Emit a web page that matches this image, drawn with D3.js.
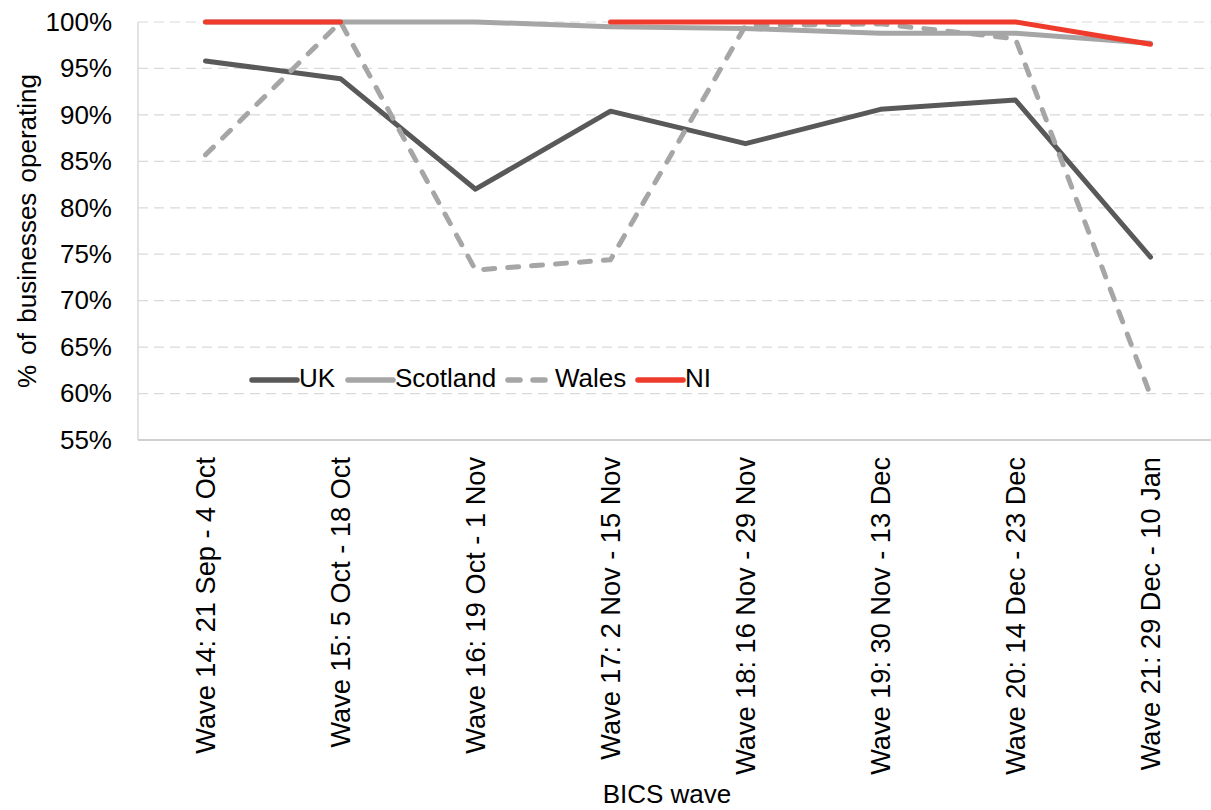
<!DOCTYPE html>
<html>
<head>
<meta charset="utf-8">
<script src="https://cdn.jsdelivr.net/npm/d3@7"></script>
<style>
  html, body { margin: 0; padding: 0; background: #fff; }
  svg { display: block; font-family: "Liberation Sans", Arial, sans-serif; }
</style>
</head>
<body>
<svg id="chart" width="1211" height="810"></svg>
<script>
// BICS waves (categories)
const waves = [
  "Wave 14: 21 Sep - 4 Oct",
  "Wave 15: 5 Oct - 18 Oct",
  "Wave 16: 19 Oct - 1 Nov",
  "Wave 17: 2 Nov - 15 Nov",
  "Wave 18: 16 Nov - 29 Nov",
  "Wave 19: 30 Nov - 13 Dec",
  "Wave 20: 14 Dec - 23 Dec",
  "Wave 21: 29 Dec - 10 Jan"
];

// % of businesses operating, by nation
const ukValues       = [95.8, 93.9, 82.0, 90.4, 86.9, 90.6, 91.6, 74.7];
const scotlandValues = [100, 100, 100, 99.5, 99.3, 98.8, 98.8, 97.7];
const walesValues    = [85.7, 100, 73.3, 74.4, 99.6, 99.8, 98.2, 59.8];
const niValues       = [100, 100, null, 100, 100, 100, 100, 97.6];

const seriesNames = ["UK", "Scotland", "Wales", "NI"];

// y-axis ticks
const yTicks = [55, 60, 65, 70, 75, 80, 85, 90, 95, 100];

const styles = {
  UK:       { color: "#595959", dash: null },
  Scotland: { color: "#a6a6a6", dash: null },
  Wales:    { color: "#a6a6a6", dash: "11,13" },
  NI:       { color: "#ee3b2b", dash: null }
};

const series = [
  { name: "UK", values: ukValues },
  { name: "Scotland", values: scotlandValues },
  { name: "Wales", values: walesValues },
  { name: "NI", values: niValues }
];

const svg = d3.select("#chart");
const plotLeft = 138, plotRight = 1218, plotTop = 22, plotBottom = 440;

const x = d3.scaleBand().domain(waves).range([plotLeft, plotRight]);
const y = d3.scaleLinear().domain([55, 100]).range([plotBottom, plotTop]);
const cx = w => x(w) + x.bandwidth() / 2;

// horizontal gridlines
svg.append("g")
  .selectAll("line")
  .data(yTicks.filter(t => t > 55))
  .join("line")
  .attr("x1", plotLeft).attr("x2", plotRight)
  .attr("y1", d => y(d)).attr("y2", d => y(d))
  .attr("stroke", "#d9d9d9")
  .attr("stroke-width", 1.2)
  .attr("stroke-dasharray", "10,6");

// axis lines
svg.append("line")
  .attr("x1", plotLeft).attr("x2", plotLeft).attr("y1", plotTop).attr("y2", plotBottom)
  .attr("stroke", "#d9d9d9").attr("stroke-width", 1.5);
svg.append("line")
  .attr("x1", plotLeft).attr("x2", plotRight).attr("y1", plotBottom).attr("y2", plotBottom)
  .attr("stroke", "#d0d0d0").attr("stroke-width", 2);

// y tick labels
const yAxis = d3.axisLeft(y).tickValues(yTicks).tickSize(0).tickPadding(26)
  .tickFormat(d => d + "%");
const gy = svg.append("g").attr("transform", `translate(${plotLeft},0)`).call(yAxis);
gy.select(".domain").remove();
gy.selectAll("text")
  .attr("font-size", 26).attr("fill", "#000")
  .attr("font-family", "'Liberation Sans', Arial, sans-serif");

// x tick labels (rotated)
const xAxis = d3.axisBottom(x).tickSize(0);
const gx = svg.append("g").attr("transform", `translate(0,${plotBottom})`).call(xAxis);
gx.select(".domain").remove();
gx.selectAll("text")
  .attr("font-size", 27.2).attr("fill", "#000")
  .attr("font-family", "'Liberation Sans', Arial, sans-serif")
  .attr("text-anchor", "end")
  .attr("transform", "rotate(-90)")
  .attr("x", -17).attr("y", 0).attr("dy", "0.36em");

// axis titles
svg.append("text")
  .attr("transform", `translate(36,${(plotTop + plotBottom) / 2}) rotate(-90)`)
  .attr("text-anchor", "middle")
  .attr("font-size", 26).attr("fill", "#000")
  .attr("word-spacing", 3)
  .text("% of businesses operating");

svg.append("text")
  .attr("x", 667).attr("y", 803)
  .attr("text-anchor", "middle")
  .attr("font-size", 26).attr("fill", "#000")
  .text("BICS wave");

// series lines
const line = d3.line()
  .defined(d => d != null)
  .x((d, i) => cx(waves[i]))
  .y(d => y(d));

svg.append("g")
  .selectAll("path")
  .data(series)
  .join("path")
  .attr("d", s => line(s.values))
  .attr("fill", "none")
  .attr("stroke", s => styles[s.name].color)
  .attr("stroke-width", 5)
  .attr("stroke-linejoin", "round")
  .attr("stroke-linecap", "round")
  .attr("stroke-dasharray", s => styles[s.name].dash);

// legend
const legendY = 380;
const legendItems = [
  { name: "UK", x0: 252 },
  { name: "Scotland", x0: 348 },
  { name: "Wales", x0: 508 },
  { name: "NI", x0: 638 }
];
const lg = svg.append("g");
legendItems.forEach(it => {
  const st = styles[it.name];
  lg.append("line")
    .attr("x1", it.x0).attr("x2", it.x0 + 45)
    .attr("y1", legendY).attr("y2", legendY)
    .attr("stroke", st.color)
    .attr("stroke-width", 5.5)
    .attr("stroke-linecap", "round")
    .attr("stroke-dasharray", st.dash ? "12,13" : null);
  lg.append("text")
    .attr("x", it.x0 + 47).attr("y", legendY + 7)
    .attr("font-size", 26).attr("fill", "#000")
    .text(it.name);
});
</script>
</body>
</html>
